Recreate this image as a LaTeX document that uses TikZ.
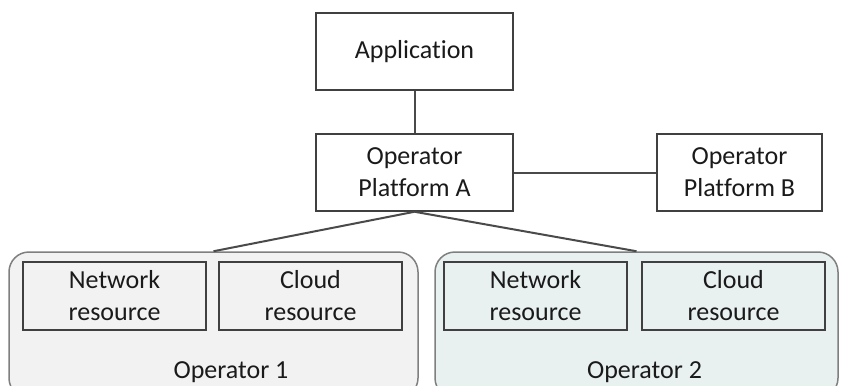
\documentclass[tikz,border=0pt]{standalone}
\usepackage{fontspec}
\setmainfont[Ligatures={NoCommon}]{Carlito}
\definecolor{edge}{HTML}{404040}
\definecolor{link}{HTML}{4A4A4A}
\definecolor{frame}{HTML}{7F7F7F}
\definecolor{opgray}{HTML}{F2F2F2}
\definecolor{opteal}{HTML}{E8F0F0}
\definecolor{ink}{HTML}{1A1A1A}
\tikzset{
  box/.style={draw=edge, line width=1.5pt, fill=white, align=center, inner sep=0pt,
    text=ink, font=\fontsize{26}{32}\selectfont},
  operator/.style={draw=frame, line width=1.5pt, rounded corners=20pt, inner sep=0pt},
  wire/.style={draw=link, line width=2pt},
  oplabel/.style={text=ink, font=\fontsize{26}{32}\selectfont, anchor=base, inner sep=0pt}
}
\begin{document}
\begin{tikzpicture}[x=1pt, y=-1pt]
  \clip (0,0) rectangle (850,385);
  \fill[white] (0,0) rectangle (850,385);

  % operator containers
  \node[operator, fill=opgray, minimum width=409pt, minimum height=146pt] (op1) at (213.5,325) {};
  \node[operator, fill=opteal, minimum width=403pt, minimum height=146pt] (op2) at (636.5,325) {};

  % resources inside the operators
  \node[box, fill=opgray, minimum width=183pt, minimum height=68pt] (net1) at (114.5,296) {Network\\resource};
  \node[box, fill=opgray, minimum width=183pt, minimum height=68pt] (cloud1) at (310.5,296) {Cloud\\resource};
  \node[box, fill=opteal, minimum width=183pt, minimum height=68pt] (net2) at (535.5,296) {Network\\resource};
  \node[box, fill=opteal, minimum width=183pt, minimum height=68pt] (cloud2) at (733.5,296) {Cloud\\resource};

  \node[oplabel] (lab1) at (231,378) {Operator 1};
  \node[oplabel] (lab2) at (644.5,378) {Operator 2};

  % platforms and application
  \node[box, minimum width=197pt, minimum height=77pt] (app) at (414.5,51.5) {Application};
  \node[box, minimum width=197pt, minimum height=77pt] (pa) at (414.5,172.5) {Operator\\Platform A};
  \node[box, minimum width=165pt, minimum height=77pt] (pb) at (739.5,172.5) {Operator\\Platform B};

  % connectors
  \draw[wire] (app.south) -- (pa.north);
  \draw[wire] (pa.east) -- (pb.west);
  \draw[wire] (pa.south) -- (op1.north);
  \draw[wire] (pa.south) -- (op2.north);
\end{tikzpicture}
\end{document}
